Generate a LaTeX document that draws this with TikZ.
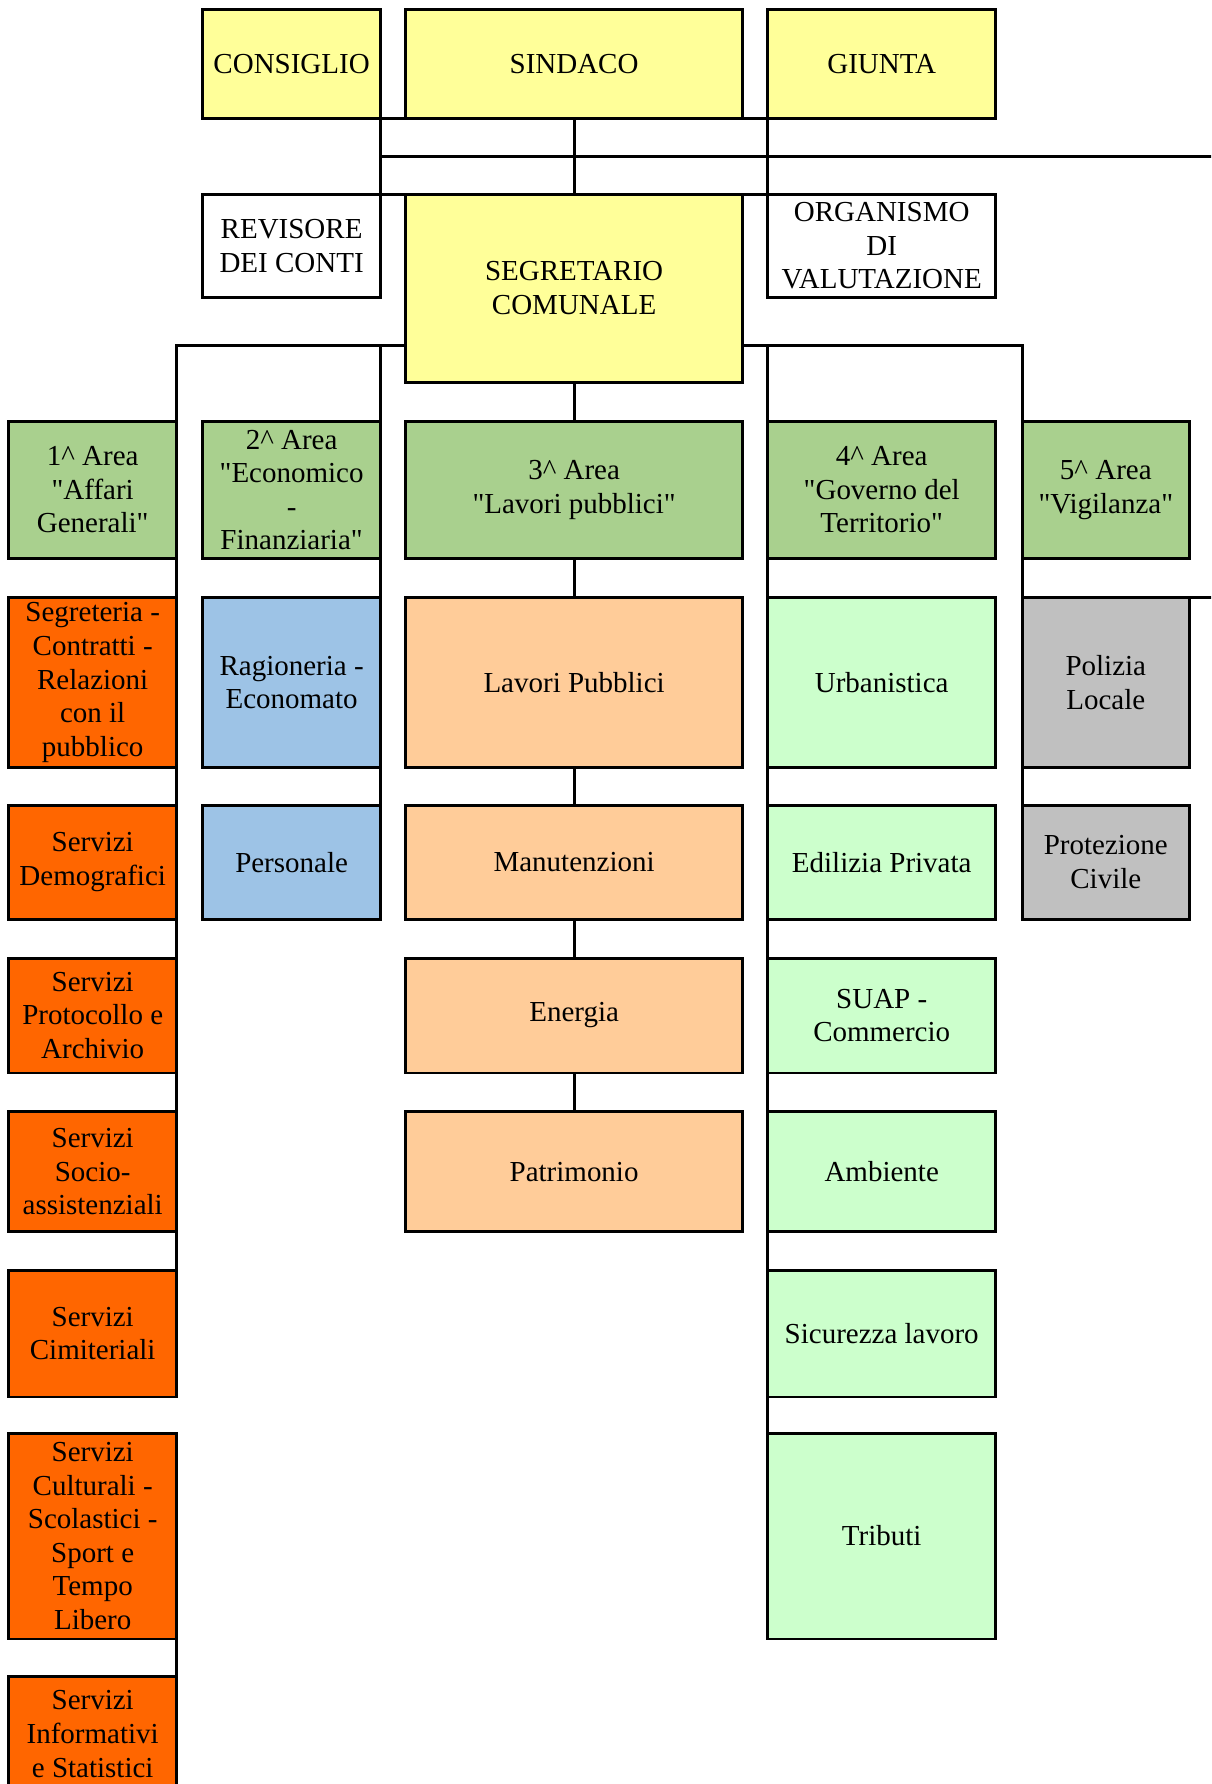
\documentclass[tikz,border=0pt]{standalone}
\usepackage{fontspec}
\setmainfont{Liberation Serif}
\usepackage{tikz}
\usetikzlibrary{calc}

\definecolor{topyellow}{RGB}{255,255,153}
\definecolor{areagreen}{RGB}{169,208,142}
\definecolor{servorange}{RGB}{255,102,0}
\definecolor{servblue}{RGB}{157,195,230}
\definecolor{servpeach}{RGB}{255,204,153}
\definecolor{servmint}{RGB}{204,255,204}
\definecolor{servgrey}{RGB}{192,192,192}

\tikzset{ box/.style = { draw
                       , inner sep = 0pt
                       , outer sep = 0pt
                       , align = center
                       , font = \fontsize{16.5}{19.1}\selectfont
                       }
        , colA/.style = {minimum width = 3.36cm}
        , colB/.style = {minimum width = 3.55cm}
        , colC/.style = {minimum width = 6.74cm}
        , colD/.style = {minimum width = 4.56cm}
        , colE/.style = {minimum width = 3.35cm}
        }

\begin{document}
\begin{tikzpicture}[x=0.02cm, y=0.02cm, line width=1.7pt]

  \useasboundingbox (0,0) rectangle (1211,-1784);
  \clip (0,0) rectangle (1211,-1784);

  % vertici
  \node (consiglio) [box, colB, fill=topyellow, minimum height=2.18cm] at (291.6,-63.8) {CONSIGLIO};
  \node (sindaco)   [box, colC, fill=topyellow, minimum height=2.18cm] at (574.1,-63.8) {SINDACO};
  \node (giunta)    [box, colD, fill=topyellow, minimum height=2.18cm] at (881.7,-63.8) {GIUNTA};

  \node (revisore)   [box, colB, minimum height=2.08cm] at (291.6,-246) {REVISORE\\DEI CONTI};
  \node (segretario) [box, colC, fill=topyellow, minimum height=3.77cm] at (574.1,-288.3) {SEGRETARIO\\COMUNALE};
  \node (oiv)        [box, colD, minimum height=2.08cm] at (881.7,-246) {ORGANISMO\\DI\\VALUTAZIONE};

  % aree
  \node (area1) [box, colA, fill=areagreen, minimum height=2.76cm] at (92.7,-490)   {1\textasciicircum{} Area\\\textquotedbl Affari\\Generali\textquotedbl};
  \node (area2) [box, colB, fill=areagreen, minimum height=2.76cm] at (291.6,-490)  {2\textasciicircum{} Area\\\textquotedbl Economico\\-\\Finanziaria\textquotedbl};
  \node (area3) [box, colC, fill=areagreen, minimum height=2.76cm] at (574.1,-490)  {3\textasciicircum{} Area\\\textquotedbl Lavori pubblici\textquotedbl};
  \node (area4) [box, colD, fill=areagreen, minimum height=2.76cm] at (881.7,-490)  {4\textasciicircum{} Area\\\textquotedbl Governo del\\Territorio\textquotedbl};
  \node (area5) [box, colE, fill=areagreen, minimum height=2.76cm] at (1105.8,-490) {5\textasciicircum{} Area\\\textquotedbl Vigilanza\textquotedbl};

  % 1^ area
  \node (segreteria)  [box, colA, fill=servorange, minimum height=3.42cm] at (92.7,-682.5) {Segreteria -\\Contratti -\\Relazioni\\con il\\pubblico};
  \node (demografici) [box, colA, fill=servorange, minimum height=2.28cm] at (92.7,-862.3) {Servizi\\Demografici};
  \node (protocollo)  [box, colA, fill=servorange, minimum height=2.30cm] at (92.7,-1015.5) {Servizi\\Protocollo e\\Archivio};
  \node (socio)       [box, colA, fill=servorange, minimum height=2.41cm] at (92.7,-1171.7) {Servizi\\Socio-\\assistenziali};
  \node (cimiteriali) [box, colA, fill=servorange, minimum height=2.54cm] at (92.7,-1333.5) {Servizi\\Cimiteriali};
  \node (culturali)   [box, colA, fill=servorange, minimum height=4.12cm] at (92.7,-1536) {Servizi\\Culturali -\\Scolastici -\\Sport e\\Tempo\\Libero};
  \node (informativi) [box, colA, fill=servorange, minimum height=2.32cm] at (92.7,-1734) {Servizi\\Informativi\\e Statistici};

  % 2^ area
  \node (ragioneria) [box, colB, fill=servblue, minimum height=3.42cm] at (291.6,-682.5) {Ragioneria -\\Economato};
  \node (personale)  [box, colB, fill=servblue, minimum height=2.28cm] at (291.6,-862.3) {Personale};

  % 3^ area
  \node (lavori)       [box, colC, fill=servpeach, minimum height=3.42cm] at (574.1,-682.5)  {Lavori Pubblici};
  \node (manutenzioni) [box, colC, fill=servpeach, minimum height=2.28cm] at (574.1,-862.3)  {Manutenzioni};
  \node (energia)      [box, colC, fill=servpeach, minimum height=2.30cm] at (574.1,-1015.5) {Energia};
  \node (patrimonio)   [box, colC, fill=servpeach, minimum height=2.41cm] at (574.1,-1171.7) {Patrimonio};

  % 4^ area
  \node (urbanistica) [box, colD, fill=servmint, minimum height=3.42cm] at (881.7,-682.5)  {Urbanistica};
  \node (edilizia)    [box, colD, fill=servmint, minimum height=2.28cm] at (881.7,-862.3)  {Edilizia Privata};
  \node (suap)        [box, colD, fill=servmint, minimum height=2.30cm] at (881.7,-1015.5) {SUAP -\\Commercio};
  \node (ambiente)    [box, colD, fill=servmint, minimum height=2.41cm] at (881.7,-1171.7) {Ambiente};
  \node (sicurezza)   [box, colD, fill=servmint, minimum height=2.54cm] at (881.7,-1333.5) {Sicurezza lavoro};
  \node (tributi)     [box, colD, fill=servmint, minimum height=4.12cm] at (881.7,-1536)   {Tributi};

  % 5^ area
  \node (polizia)    [box, colE, fill=servgrey, minimum height=3.42cm] at (1105.8,-682.5) {Polizia\\Locale};
  \node (protezione) [box, colE, fill=servgrey, minimum height=2.28cm] at (1105.8,-862.3) {Protezione\\Civile};

  \coordinate (rightedge) at (1220,0);
  \coordinate (busL) at ($(segretario.south west)+(0,37)$);
  \coordinate (busR) at ($(segretario.south east)+(0,37)$);

  \draw (consiglio.south east) -- (giunta.south west);
  \draw (consiglio.south east) -- coordinate[pos=0.5] (tbar) (revisore.north east);
  \draw (tbar) -- (tbar -| rightedge);
  \draw (sindaco.south) -- (segretario.north);
  \draw (giunta.south west) -- (oiv.north west);
  \draw (revisore.north east) -- (oiv.north west);

  \draw (busL) -| (cimiteriali.south east);
  \draw (culturali.north east) -- (informativi.north east);
  \draw (busL -| area2.east) -- (personale.south east);
  \draw (segretario.south) -- (area3.north)
        (area3.south) -- (lavori.north)
        (lavori.south) -- (manutenzioni.north)
        (manutenzioni.south) -- (energia.north)
        (energia.south) -- (patrimonio.north);
  \draw (busR) -| (protezione.south west);
  \draw (busR -| area4.west) -- (tributi.north west);
  \draw (polizia.north east) -- (polizia.north east -| rightedge);

\end{tikzpicture}
\end{document}
